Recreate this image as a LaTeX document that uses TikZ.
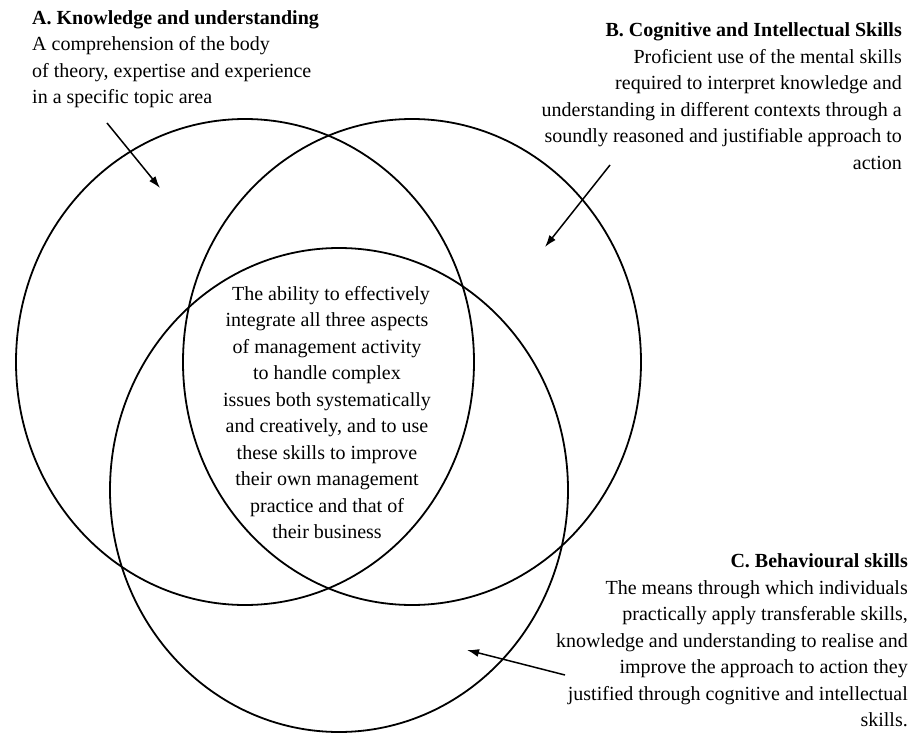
\documentclass[tikz,border=0pt]{standalone}
\usepackage{fontspec}
\setmainfont{Liberation Serif}
\usetikzlibrary{arrows.meta}

\tikzset{
	set/.style={line width=1.8pt},
	blurb/.style={inner sep=0pt, font=\fontsize{20}{26.5}\selectfont},
	pointer/.style={line width=1.5pt, -{Latex[length=12pt,width=8pt]}}
}

\begin{document}
\begin{tikzpicture}[x=1pt,y=-1pt]
		\useasboundingbox (0,0) rectangle (911,733);
		% the three sets
		\draw[set] (245,362) ellipse [x radius=229pt, y radius=243pt];
		\draw[set] (412,362) ellipse [x radius=229pt, y radius=243pt];
		\draw[set] (339,490) ellipse [x radius=229pt, y radius=242pt];
		% descriptions
		\node[blurb, align=left, anchor=north west] (knowA) at (32,10)
			{\textbf{A. Knowledge and understanding}\\A comprehension of the body\\of theory, expertise and experience\\in a specific topic area};
		\node[blurb, align=right, anchor=north east] (cogB) at (902,22.5)
			{\textbf{B. Cognitive and Intellectual Skills}\\Proficient use of the mental skills\\required to interpret knowledge and\\understanding in different contexts through a\\soundly reasoned and justifiable approach to\\action};
		\node[blurb, align=right, anchor=north east] (behC) at (908,553.5)
			{\textbf{C. Behavioural skills}\\The means through which individuals\\practically apply transferable skills,\\knowledge and understanding to realise and\\improve the approach to action they\\justified through cognitive and intellectual\\skills.};
		\node[blurb, align=center, anchor=north] (core) at (327,286)
			{\hspace{8pt}The ability to effectively\\integrate all three aspects\\of management activity\\to handle complex\\issues both systematically\\and creatively, and to use\\these skills to improve\\their own management\\practice and that of\\their business};
		% pointers into the sets
		\coordinate (tailA) at (107,123);
		\coordinate (headA) at (160,188);
		\coordinate (tailB) at (610,165);
		\coordinate (headB) at (545,247);
		\coordinate (tailC) at (565,675);
		\coordinate (headC) at (467,650);
		\draw[pointer] (tailA) -- (headA);
		\draw[pointer] (tailB) -- (headB);
		\draw[pointer] (tailC) -- (headC);
	\end{tikzpicture}
\end{document}
